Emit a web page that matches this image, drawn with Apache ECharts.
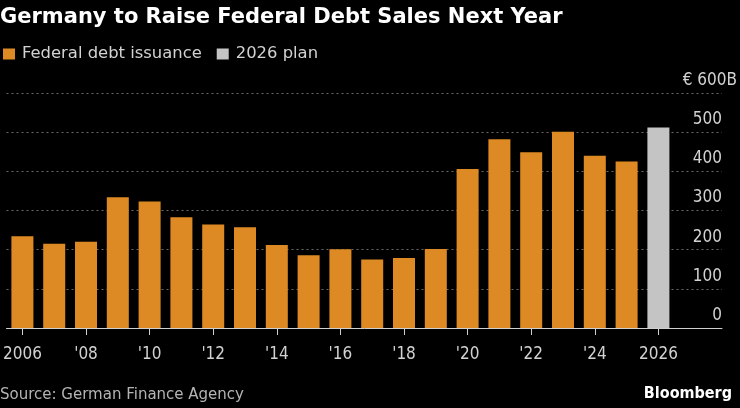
<!DOCTYPE html>
<html>
<head>
    <meta charset="utf-8" />
    <title>Germany to Raise Federal Debt Sales Next Year</title>
    <script src="https://cdn.jsdelivr.net/npm/echarts@6/dist/echarts.min.js"></script>
    <style>
        html, body { margin: 0; padding: 0; background: #000; }
        #main { width: 740px; height: 408px; }
    </style>
</head>
<body>
<div id="main"></div>
<script type="text/javascript">
    // data, EUR billions
    let years = [2006, 2007, 2008, 2009, 2010, 2011, 2012, 2013, 2014, 2015, 2016, 2017, 2018, 2019, 2020, 2021, 2022, 2023, 2024, 2025]
    let issuance = [234, 215, 220, 334, 323, 283, 264, 257, 212, 186, 201, 175, 179, 202, 406, 482, 449, 501, 440, 425]
    let planYears = [2026]
    let plan = [512]
    let tickYears = [2006, 2008, 2010, 2012, 2014, 2016, 2018, 2020, 2022, 2024, 2026]
    let tickLabels = ['2006', "'08", "'10", "'12", "'14", "'16", "'18", "'20", "'22", "'24", '2026']

    let colorIssue = '#de8a24'
    let colorPlan = '#c4c4c4'
    let colorText = '#d2d2d2'
    let fontWide = 'DejaVu Sans, sans-serif'
    let fontNarrow = 'DejaVu Sans Condensed, DejaVu Sans, sans-serif'

    let myChart = echarts.init(document.getElementById('main'))

    myChart.setOption({
        backgroundColor: '#000',
        animation: false,
        title: {
            text: 'Germany to Raise Federal Debt Sales Next Year',
            left: 0,
            top: 7,
            padding: 0,
            textStyle: {
                color: '#fff',
                fontSize: 21,
                fontWeight: 'bold',
                fontFamily: fontWide,
            },
        },
        legend: {
            left: 3,
            top: 46,
            padding: 0,
            itemWidth: 12,
            itemHeight: 11,
            itemGap: 15,
            icon: 'rect',
            textStyle: {
                color: colorText,
                fontSize: 16.4,
                fontFamily: fontWide,
                padding: [0, 0, 0, 2],
            },
            data: ['Federal debt issuance', '2026 plan'],
        },
        grid: {
            left: 3,
            right: 16,
            top: 93,
            bottom: 80,
        },
        xAxis: {
            type: 'value',
            min: 2005.5,
            max: 2028,
            splitLine: { show: false },
            axisLine: {
                show: true,
                onZero: false,
                lineStyle: { color: '#cfcfcf', width: 1 },
            },
            axisTick: {
                show: true,
                length: 7,
                customValues: tickYears,
                lineStyle: { color: '#cfcfcf' },
            },
            axisLabel: {
                customValues: tickYears,
                margin: 18,
                color: colorText,
                fontSize: 17,
                fontFamily: fontNarrow,
                formatter: function (v) {
                    let i = tickYears.indexOf(Math.round(v))
                    return i >= 0 ? tickLabels[i] : ''
                },
            },
        },
        yAxis: {
            type: 'value',
            position: 'right',
            min: 0,
            max: 600,
            interval: 100,
            axisLine: { show: false },
            axisTick: { show: false },
            splitLine: {
                show: true,
                lineStyle: { color: '#6a6a6a', type: [2, 3], width: 1 },
            },
            axisLabel: {
                inside: true,
                margin: -15,
                verticalAlign: 'bottom',
                formatter: function (v) {
                    if (v === 600) {
                        return '{a|€ 600B}'
                    }
                    return '{a|' + v + '}{s| }'
                },
                rich: {
                    a: {
                        color: colorText,
                        fontSize: 17,
                        fontFamily: fontNarrow,
                        lineHeight: 17,
                        padding: [0, 0, 8, 0],
                    },
                    s: {
                        width: 15,
                        fontSize: 17,
                        lineHeight: 17,
                        padding: [0, 0, 8, 0],
                    },
                },
            },
        },
        series: [
            {
                name: 'Federal debt issuance',
                type: 'bar',
                stack: 'a',
                barWidth: 22,
                itemStyle: { color: colorIssue },
                data: years.map(function (y, i) { return [y, issuance[i]] }),
            },
            {
                name: '2026 plan',
                type: 'bar',
                stack: 'a',
                barWidth: 22,
                itemStyle: { color: colorPlan },
                data: planYears.map(function (y, i) { return [y, plan[i]] }),
            },
        ],
        graphic: [
            {
                type: 'text',
                left: 0,
                top: 388,
                style: {
                    text: 'Source: German Finance Agency',
                    fill: '#b4b4b4',
                    fontSize: 15,
                    fontFamily: fontWide,
                },
            },
            {
                type: 'text',
                right: 8,
                top: 386,
                style: {
                    text: 'Bloomberg',
                    fill: '#fff',
                    fontSize: 16,
                    fontWeight: 'bold',
                    fontFamily: fontNarrow,
                },
            },
        ],
    });
</script>
</body>
</html>
